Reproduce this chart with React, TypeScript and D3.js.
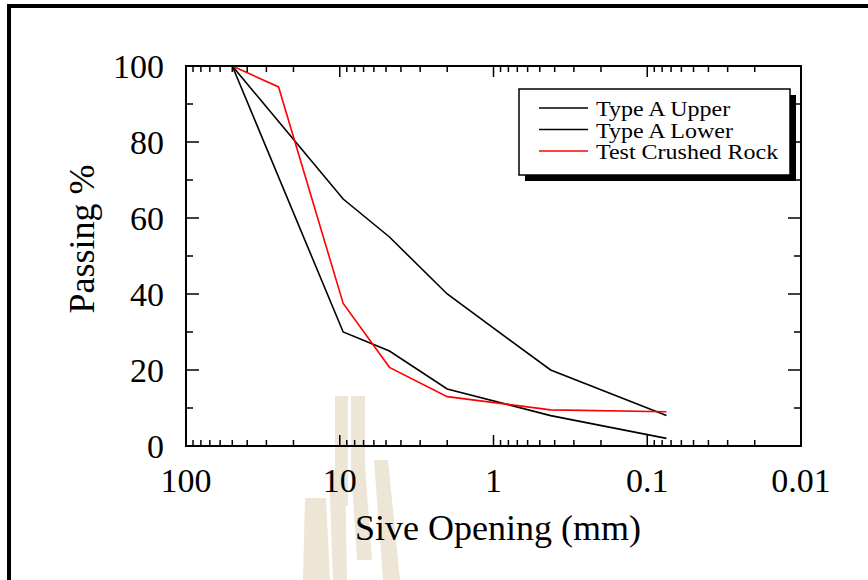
import * as d3 from "d3";

// sieve sizes (mm) and percent passing
const specSizes = [50, 9.5, 4.75, 2.0, 0.425, 0.075];
const typeAUpper = [100, 65, 55, 40, 20, 8];
const typeALower = [100, 30, 25, 15, 8, 2];
const testSizes = [50, 25, 9.5, 4.75, 2.0, 0.425, 0.075];
const testCrushedRock = [100, 94.5, 37.5, 20.7, 13, 9.5, 9];

const xTickLabels = ["100", "10", "1", "0.1", "0.01"];
const xTickValues = [100, 10, 1, 0.1, 0.01];
const yTickValues = [0, 20, 40, 60, 80, 100];

const series = [
  { name: "Type A Upper", sizes: specSizes, values: typeAUpper, color: "#000" },
  { name: "Type A Lower", sizes: specSizes, values: typeALower, color: "#000" },
  { name: "Test Crushed Rock", sizes: testSizes, values: testCrushedRock, color: "#ff0000" },
];

const FONT = "'Liberation Serif', 'Times New Roman', serif";
const WATERMARK = "#ede5d6";

export default function App() {
  const width = 868;
  const height = 580;
  const left = 186;
  const right = 801;
  const top = 66;
  const bottom = 446;

  const x = d3.scaleLog().domain([100, 0.01]).range([left, right]);
  const y = d3.scaleLinear().domain([0, 100]).range([bottom, top]);

  const line = d3
    .line<[number, number]>()
    .x((d) => x(d[0]))
    .y((d) => y(d[1]));

  // minor ticks 2..9 in each decade
  const minorX: number[] = [];
  [10, 1, 0.1, 0.01].forEach((base) => {
    for (let m = 2; m <= 9; m++) minorX.push(base * m);
  });
  const minorY = d3.range(10, 100, 20);

  const legendX = 519;
  const legendY = 89;
  const legendW = 271;
  const legendH = 86;

  return (
    <svg
      width={width}
      height={height}
      style={{ position: "absolute", left: 0, top: 0, background: "#fff" }}
    >
      {/* frame */}
      <rect x={7} y={4} width={width - 7} height={4} fill="#000" />
      <rect x={7} y={4} width={4} height={height - 4} fill="#000" />

      {/* watermark */}
      <g fill={WATERMARK}>
        <rect x={335} y={396} width={13} height={110} />
        <rect x={351} y={396} width={14} height={70} />
        <polygon points="351,466 365,466 372,560 357,560" />
        <polygon points="305,498 326,498 330,580 303,580" />
        <polygon points="329,470 345,470 347,580 333,580" />
        <polygon points="374,460 388,460 400,580 383,580" />
      </g>

      {/* data lines */}
      {series.map((s) => (
        <path
          key={s.name}
          d={line(s.sizes.map((v, i) => [v, s.values[i]] as [number, number])) || ""}
          fill="none"
          stroke={s.color}
          strokeWidth={1.6}
        />
      ))}

      {/* axes frame */}
      <rect
        x={left}
        y={top}
        width={right - left}
        height={bottom - top}
        fill="none"
        stroke="#000"
        strokeWidth={2}
      />

      {/* x ticks */}
      {xTickValues.map((v) => (
        <g key={"xm" + v} stroke="#000" strokeWidth={1.5}>
          <line x1={x(v)} x2={x(v)} y1={bottom} y2={bottom - 11} />
          <line x1={x(v)} x2={x(v)} y1={top} y2={top + 11} />
        </g>
      ))}
      {minorX.map((v) => (
        <g key={"xn" + v} stroke="#000" strokeWidth={1.5}>
          <line x1={x(v)} x2={x(v)} y1={bottom} y2={bottom - 6} />
          <line x1={x(v)} x2={x(v)} y1={top} y2={top + 6} />
        </g>
      ))}

      {/* y ticks */}
      {yTickValues.map((v) => (
        <g key={"ym" + v} stroke="#000" strokeWidth={1.5}>
          <line x1={left} x2={left + 13} y1={y(v)} y2={y(v)} />
          <line x1={right} x2={right - 13} y1={y(v)} y2={y(v)} />
        </g>
      ))}
      {minorY.map((v) => (
        <g key={"yn" + v} stroke="#000" strokeWidth={1.5}>
          <line x1={left} x2={left + 7} y1={y(v)} y2={y(v)} />
          <line x1={right} x2={right - 7} y1={y(v)} y2={y(v)} />
        </g>
      ))}

      {/* tick labels */}
      <g fontFamily={FONT} fontSize={34} fill="#000">
        {xTickValues.map((v, i) => (
          <text key={"xl" + v} x={x(v)} y={492} textAnchor="middle">
            {xTickLabels[i]}
          </text>
        ))}
        {yTickValues.map((v) => (
          <text key={"yl" + v} x={164} y={y(v) + 12} textAnchor="end">
            {v}
          </text>
        ))}
      </g>

      {/* axis titles */}
      <text
        x={498}
        y={540}
        textAnchor="middle"
        fontFamily={FONT}
        fontSize={36}
        fill="#000"
      >
        Sive Opening (mm)
      </text>
      <text
        transform="translate(94,239) rotate(-90)"
        textAnchor="middle"
        fontFamily={FONT}
        fontSize={36}
        fill="#000"
      >
        Passing %
      </text>

      {/* legend */}
      <rect x={legendX + 6} y={legendY + 6} width={legendW} height={legendH} fill="#000" />
      <rect
        x={legendX}
        y={legendY}
        width={legendW}
        height={legendH}
        fill="#fff"
        stroke="#000"
        strokeWidth={1.5}
      />
      {series.map((s, i) => {
        const ly = 108 + i * 21.5;
        return (
          <g key={"lg" + s.name}>
            <line x1={539} x2={588} y1={ly} y2={ly} stroke={s.color} strokeWidth={1.6} />
            <text
              transform={`translate(596,${ly + 8}) scale(1.2,1)`}
              fontFamily={FONT}
              fontSize={20}
              fill="#000"
            >
              {s.name}
            </text>
          </g>
        );
      })}
    </svg>
  );
}
